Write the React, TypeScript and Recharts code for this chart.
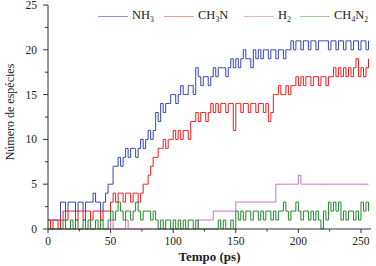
import { Line, LineChart, XAxis, YAxis } from "recharts"

// simulation time (ps), sampled every 2 ps
const time = [
  0, 2, 4, 6, 8, 10, 12, 14, 16, 18,
  20, 22, 24, 26, 28, 30, 32, 34, 36, 38,
  40, 42, 44, 46, 48, 50, 52, 54, 56, 58,
  60, 62, 64, 66, 68, 70, 72, 74, 76, 78,
  80, 82, 84, 86, 88, 90, 92, 94, 96, 98,
  100, 102, 104, 106, 108, 110, 112, 114, 116, 118,
  120, 122, 124, 126, 128, 130, 132, 134, 136, 138,
  140, 142, 144, 146, 148, 150, 152, 154, 156, 158,
  160, 162, 164, 166, 168, 170, 172, 174, 176, 178,
  180, 182, 184, 186, 188, 190, 192, 194, 196, 198,
  200, 202, 204, 206, 208, 210, 212, 214, 216, 218,
  220, 222, 224, 226, 228, 230, 232, 234, 236, 238,
  240, 242, 244, 246, 248, 250, 252, 254, 256,
]

const nh3 = [
  1, 1, 1, 1, 1, 3, 3, 2, 3, 3,
  3, 2, 3, 3, 2, 3, 3, 3, 4, 3,
  3, 2, 3, 4, 5, 5, 7, 7, 8, 7,
  8, 9, 8, 9, 9, 8, 9, 10, 9, 10,
  11, 10, 11, 13, 12, 14, 13, 14, 14, 15,
  15, 14, 15, 16, 15, 15, 16, 16, 15, 18,
  17, 16, 17, 17, 16, 17, 18, 17, 18, 18,
  18, 17, 18, 19, 18, 19, 18, 19, 20, 19,
  19, 18, 20, 19, 20, 19, 20, 20, 19, 20,
  20, 19, 20, 20, 19, 20, 20, 21, 20, 21,
  21, 20, 21, 21, 20, 21, 21, 20, 21, 21,
  21, 21, 20, 21, 21, 20, 21, 21, 20, 21,
  21, 20, 21, 21, 20, 21, 21, 20, 21,
]

const ch3n = [
  1, 0, 1, 1, 0, 1, 2, 1, 2, 2,
  2, 1, 2, 2, 1, 2, 2, 1, 2, 2,
  2, 1, 2, 2, 2, 3, 4, 3, 4, 4,
  3, 4, 4, 3, 4, 4, 3, 4, 5, 5,
  6, 7, 8, 8, 9, 9, 10, 9, 10, 10,
  11, 10, 11, 10, 11, 11, 10, 12, 12, 13,
  12, 13, 13, 12, 13, 14, 13, 14, 13, 14,
  14, 13, 14, 14, 11, 14, 14, 13, 14, 14,
  13, 14, 14, 13, 14, 14, 13, 14, 12, 13,
  15, 15, 16, 15, 15, 16, 15, 16, 16, 17,
  16, 17, 16, 17, 17, 16, 17, 17, 16, 17,
  17, 16, 17, 17, 18, 17, 18, 17, 18, 17,
  18, 17, 18, 19, 17, 18, 17, 18, 19,
]

const h2 = [
  0, 0, 0, 0, 0, 0, 0, 0, 0, 0,
  0, 0, 0, 0, 0, 0, 0, 0, 0, 0,
  0, 0, 0, 0, 0, 1, 0, 0, 0, 0,
  0, 1, 0, 0, 0, 0, 0, 0, 0, 0,
  0, 0, 0, 0, 0, 0, 0, 0, 0, 0,
  0, 0, 0, 0, 0, 0, 0, 0, 0, 0,
  1, 1, 1, 1, 1, 1, 2, 2, 2, 2,
  2, 2, 2, 2, 2, 3, 3, 3, 3, 3,
  3, 3, 3, 3, 3, 3, 3, 3, 3, 3,
  3, 5, 5, 5, 5, 5, 5, 5, 5, 5,
  6, 5, 5, 5, 5, 5, 5, 5, 5, 5,
  5, 5, 5, 5, 5, 5, 5, 5, 5, 5,
  5, 5, 5, 5, 5, 5, 5, 5, 5,
]

const ch4n2 = [
  0, 0, 0, 0, 0, 0, 1, 0, 0, 1,
  0, 1, 0, 0, 1, 0, 1, 0, 0, 1,
  0, 1, 0, 0, 1, 2, 1, 2, 3, 2,
  1, 2, 2, 1, 2, 3, 2, 1, 2, 2,
  2, 1, 2, 1, 0, 1, 0, 1, 1, 0,
  1, 0, 1, 0, 1, 0, 1, 1, 0, 1,
  0, 0, 0, 0, 0, 0, 0, 0, 1, 0,
  1, 0, 0, 1, 0, 2, 1, 2, 1, 2,
  2, 1, 2, 2, 1, 2, 1, 2, 2, 1,
  2, 1, 2, 2, 3, 2, 1, 2, 2, 3,
  2, 1, 2, 2, 1, 2, 1, 2, 1, 0,
  2, 1, 3, 2, 3, 2, 3, 1, 2, 1,
  2, 2, 1, 2, 1, 3, 2, 3, 2,
]

const xTicks = [0, 25, 50, 75, 100, 125, 150, 175, 200, 225, 250]
const yTicks = [0, 2.5, 5, 7.5, 10, 12.5, 15, 17.5, 20, 22.5, 25]

const data = time.map((t, i) => ({
  t,
  nh3: nh3[i],
  ch3n: ch3n[i],
  h2: h2[i],
  ch4n2: ch4n2[i],
}))

const FONT = "Liberation Serif, serif"
const AXIS = "#333"

const series = [
  { key: "nh3", color: "#3347b0", legend: "#8e97cf", name: "NH", sub: "3", tail: "", left: 98 },
  { key: "ch3n", color: "#ee1d1d", legend: "#f29a9a", name: "CH", sub: "3", tail: "N", left: 164 },
  { key: "h2", color: "#cc72c2", legend: "#e2b2dc", name: "H", sub: "2", tail: "", left: 244 },
  { key: "ch4n2", color: "#23882b", legend: "#9fcf9f", name: "CH", sub: "4", tail: "N", left: 300 },
]

function XTick({ x, y, payload }: any) {
  const major = payload.value % 50 === 0
  return (
    <g>
      <line x1={x} x2={x} y1={y} y2={y + (major ? 4 : 2.5)} stroke={AXIS} />
      {major && (
        <text x={x} y={y + 15.5} textAnchor="middle" fill="#222" style={{ fontFamily: FONT, fontSize: 11.5 }}>
          {payload.value}
        </text>
      )}
    </g>
  )
}

function YTick({ x, y, payload }: any) {
  const major = payload.value % 5 === 0
  return (
    <g>
      <line x1={x} x2={x - (major ? 5 : 3)} y1={y} y2={y} stroke={AXIS} />
      {major && (
        <text x={x - 11} y={y + 4} textAnchor="end" fill="#222" style={{ fontFamily: FONT, fontSize: 11.5 }}>
          {payload.value}
        </text>
      )}
    </g>
  )
}

function Legend() {
  return (
    <>
      {series.map((s) => (
        <div
          key={s.key}
          style={{
            position: "absolute",
            left: s.left,
            top: 6,
            display: "flex",
            alignItems: "center",
            fontFamily: FONT,
            fontSize: 12.5,
            color: "#222",
            whiteSpace: "nowrap",
            lineHeight: "18px",
          }}
        >
          <span style={{ width: 30, height: 0, borderTop: `1px solid ${s.legend}`, marginRight: 4 }} />
          <span>
            {s.name}
            <span style={{ fontSize: "0.62em", position: "relative", top: "0.35em" }}>{s.sub}</span>
            {s.tail}
            {s.key === "ch4n2" && (
              <span style={{ fontSize: "0.62em", position: "relative", top: "0.35em" }}>2</span>
            )}
          </span>
        </div>
      ))}
    </>
  )
}

export default function App() {
  return (
    <div style={{ position: "absolute", left: 0, top: 0, width: 376, height: 266, background: "#fff" }}>
      <LineChart width={376} height={266} data={data} margin={{ top: 5, right: 5, left: 0, bottom: 0 }}>
        <XAxis
          dataKey="t"
          type="number"
          domain={[0, 258]}
          ticks={xTicks}
          interval={0}
          height={37}
          stroke={AXIS}
          tickLine={false}
          tickSize={0}
          tickMargin={0}
          tick={<XTick />}
          label={{
            content: ({ viewBox }: any) => (
              <text
                x={viewBox.x + viewBox.width / 2}
                y={viewBox.y + 32}
                textAnchor="middle"
                fill="#222"
                style={{ fontFamily: FONT, fontSize: 13, fontWeight: "bold" }}
              >
                Tempo (ps)
              </text>
            ),
          }}
        />
        <YAxis
          type="number"
          domain={[0, 25]}
          ticks={yTicks}
          interval={0}
          width={48}
          stroke={AXIS}
          tickLine={false}
          tickSize={0}
          tickMargin={0}
          tick={<YTick />}
          label={{
            content: ({ viewBox }: any) => {
              const cx = viewBox.x + 10
              const cy = viewBox.y + viewBox.height / 2 - 5
              return (
                <text
                  x={cx}
                  y={cy}
                  transform={`rotate(-90 ${cx} ${cy})`}
                  textAnchor="middle"
                  dominantBaseline="central"
                  fill="#222"
                  style={{ fontFamily: FONT, fontSize: 12 }}
                >
                  Número de espécies
                </text>
              )
            },
          }}
        />
        {series.map((s) => (
          <Line
            key={s.key}
            dataKey={s.key}
            type="stepAfter"
            stroke={s.color}
            strokeWidth={1}
            dot={false}
            activeDot={false}
            isAnimationActive={false}
          />
        ))}
      </LineChart>
      <Legend />
    </div>
  )
}
